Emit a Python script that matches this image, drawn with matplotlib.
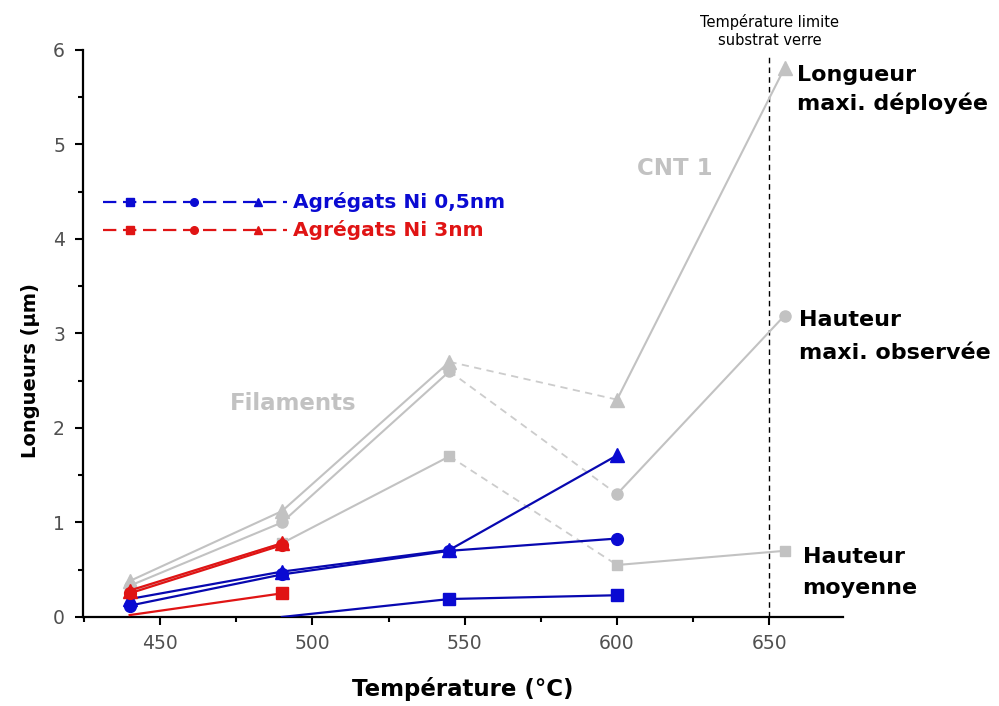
import matplotlib
matplotlib.use("Agg")
import matplotlib.pyplot as plt
from matplotlib.ticker import MultipleLocator

# Températures (°C) et longueurs (µm)
temps_cnt = [440, 490, 545, 600, 655]
longueur_maxi = [0.38, 1.12, 2.70, 2.30, 5.81]
hauteur_maxi = [0.33, 1.00, 2.60, 1.30, 3.19]
hauteur_moy = [0.27, 0.78, 1.70, 0.55, 0.70]

temps_ni05 = [440, 490, 545, 600]
ni05_tri = [0.19, 0.48, 0.71, 1.71]
ni05_circ = [0.12, 0.45, 0.70, 0.83]
temps_ni05_sq = [490, 545, 600]
ni05_sq = [0.0, 0.19, 0.23]

temps_ni3 = [440, 490]
ni3_tri = [0.28, 0.78]
ni3_circ = [0.25, 0.76]
ni3_sq = [0.02, 0.25]

temp_limite = 650

gray = "#c2c2c2"
blue = "#0a0ad2"
blue_line = "#0808b0"
red = "#e01414"

fig = plt.figure(figsize=(9.99, 7.06), dpi=100)
ax = fig.add_axes([0.0831, 0.1261, 0.7608, 0.8031])

# courbes grises (filaments puis CNT 1)
for vals, mk, ms in [(longueur_maxi, "^", 9.5), (hauteur_maxi, "o", 8), (hauteur_moy, "s", 7.5)]:
    ax.plot(temps_cnt[:3], vals[:3], "-", color=gray, lw=1.5, zorder=2)
    ax.plot(temps_cnt[2:4], vals[2:4], color="#cccccc", lw=1.3, ls=(0, (4, 3)), zorder=2)
    ax.plot(temps_cnt[3:], vals[3:], "-", color=gray, lw=1.5, zorder=2)
    ax.plot(temps_cnt, vals, ls="none", marker=mk, ms=ms, color=gray, mec=gray, zorder=2)

# Agrégats Ni 0,5nm
ax.plot(temps_ni05, ni05_tri, "-^", color=blue_line, mfc=blue, mec=blue, lw=1.6, ms=10, zorder=3)
ax.plot(temps_ni05, ni05_circ, "-o", color=blue_line, mfc=blue, mec=blue, lw=1.6, ms=8.5, zorder=3)
ax.plot(temps_ni05_sq, ni05_sq, "-s", color=blue_line, mfc=blue, mec=blue, lw=1.6, ms=8,
        markevery=[1, 2], zorder=3)

# Agrégats Ni 3nm
ax.plot(temps_ni3, ni3_circ, "-o", color=red, lw=1.6, ms=8.5, zorder=4)
ax.plot(temps_ni3, ni3_tri, "-^", color=red, lw=1.6, ms=10, zorder=4)
ax.plot(temps_ni3, ni3_sq, "-s", color=red, lw=1.6, ms=8, markevery=[1], zorder=4)

# limite du substrat verre
ax.axvline(temp_limite, ymin=0, ymax=0.99, color="black", lw=1, ls=(0, (4, 3)), zorder=1)
ax.text(temp_limite, 6.2, "Température limite\nsubstrat verre", fontsize=10.5,
        ha="center", va="center", clip_on=False, linespacing=1.3)

ax.set_xlim(424.7, 674.2)
ax.set_ylim(0, 6)
ax.xaxis.set_major_locator(MultipleLocator(50))
ax.xaxis.set_minor_locator(MultipleLocator(25))
ax.yaxis.set_major_locator(MultipleLocator(1))
ax.yaxis.set_minor_locator(MultipleLocator(0.5))

for s in ["top", "right"]:
    ax.spines[s].set_visible(False)
for s in ["left", "bottom"]:
    ax.spines[s].set_linewidth(1.6)

ax.tick_params(which="major", direction="out", length=6, width=1.5, labelsize=13.5,
               labelcolor="#505050")
ax.tick_params(which="minor", direction="out", length=3.5, width=1.5)
ax.tick_params(axis="x", pad=6)
ax.tick_params(axis="y", pad=7)

ax.set_xlabel("Température (°C)", fontsize=16.5, fontweight="bold")
ax.set_ylabel("Longueurs (µm)", fontsize=14, fontweight="bold")
ax.xaxis.set_label_coords(0.5, -0.105)
ax.yaxis.set_label_coords(-0.056, 0.434)

# annotations
ax.text(493.7, 2.26, "Filaments", color=gray, fontsize=16.5, fontweight="bold", ha="center", va="center")
ax.text(619, 4.75, "CNT 1", color=gray, fontsize=16.5, fontweight="bold", ha="center", va="center")

right_labels = [
    (659.2, 5.735, "Longueur"), (659.2, 5.44, "maxi. déployée"),
    (659.9, 3.143, "Hauteur"), (659.9, 2.794, "maxi. observée"),
    (660.9, 0.635, "Hauteur"), (660.9, 0.307, "moyenne"),
]
for xx, yy, lab in right_labels:
    ax.text(xx, yy, lab, fontsize=16, fontweight="bold", ha="left", va="center", clip_on=False)

# légende dessinée à la main
legend_rows = [(0.732, blue, "Agrégats Ni 0,5nm"), (0.6825, red, "Agrégats Ni 3nm")]
for yy, col, lab in legend_rows:
    ax.plot([0.026, 0.268], [yy, yy], transform=ax.transAxes, color=col, lw=1.6,
            ls=(0, (6, 3)), clip_on=False)
    for xx, mk in [(0.0618, "s"), (0.1461, "o"), (0.2303, "^")]:
        ax.plot([xx], [yy], transform=ax.transAxes, marker=mk, ms=5.5, color=col, clip_on=False)
    ax.text(0.276, yy, lab, transform=ax.transAxes, color=col, fontsize=14.5,
            fontweight="bold", ha="left", va="center")

fig.savefig("out.png", dpi=100)
